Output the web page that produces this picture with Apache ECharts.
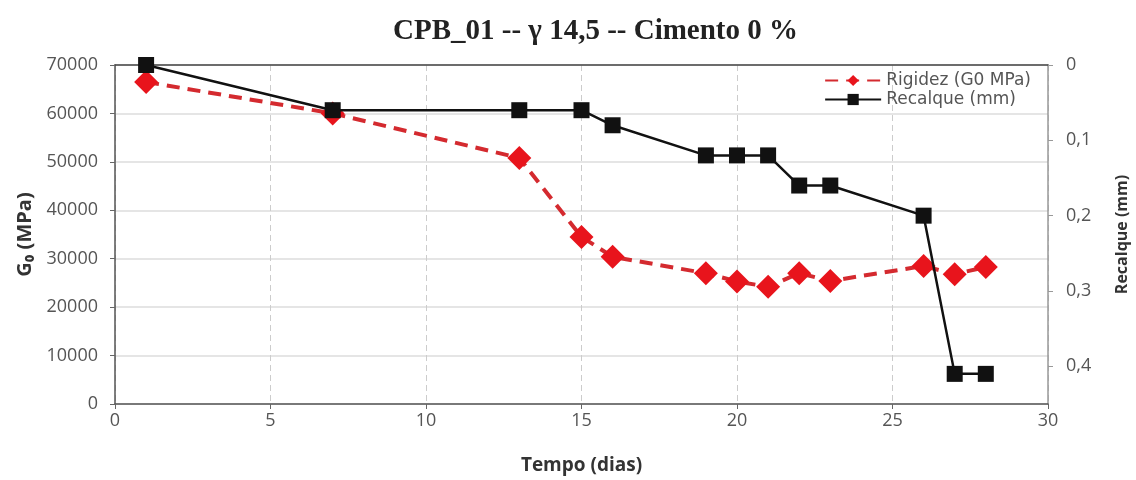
<!DOCTYPE html>
<html><head><meta charset="utf-8">
<script src="https://cdn.jsdelivr.net/npm/echarts@6/dist/echarts.min.js"></script>
<style>html,body{margin:0;padding:0;background:#fff}#c{width:1136px;height:480px}</style>
</head><body><div id="c"></div>
<script>
const dias = [1, 7, 13, 15, 16, 19, 20, 21, 22, 23, 26, 27, 28];
const rigidez = [66500, 60000, 50800, 34500, 30400, 27000, 25300, 24200, 27000, 25400, 28500, 26800, 28300];
const recalque = [0, 0.06, 0.06, 0.06, 0.08, 0.12, 0.12, 0.12, 0.16, 0.16, 0.20, 0.41, 0.41];
const titulo = 'CPB_01 -- γ 14,5 -- Cimento 0 %';

const chart = echarts.init(document.getElementById('c'));
const lab = {color:'#555', fontFamily:'Open Sans', fontSize:18};
chart.setOption({
  animation:false,
  title:{text:titulo,left:388,top:12,textStyle:{fontFamily:'Liberation Serif',fontWeight:'bold',fontSize:29,color:'#222'}},
  grid:{left:115,right:88,top:65,bottom:76,outerBoundsMode:'none',containLabel:false},
  legend:{right:100,top:67,orient:'vertical',itemGap:2,itemWidth:56,itemHeight:14,
    textStyle:{color:'#555',fontFamily:'DejaVu Sans',fontSize:17},
    data:['Rigidez (G0 MPa)','Recalque (mm)']},
  xAxis:[{type:'value',min:0,max:30,interval:5,
    name:'Tempo (dias)',nameLocation:'middle',nameGap:52,
    nameTextStyle:{fontFamily:'Open Sans',fontWeight:'bold',fontSize:19,color:'#333'},
    axisLine:{onZero:false,lineStyle:{color:'#555',width:1.5}},axisTick:{show:true,length:5,lineStyle:{color:'#666'}},
    axisLabel:Object.assign({margin:8},lab),
    splitLine:{show:true,lineStyle:{color:'#ccc',type:[6,4]}}},
   {type:'value',position:'top',min:0,max:30,axisLine:{show:true,onZero:false,lineStyle:{color:'#444',width:1.5}},
    axisTick:{show:false},axisLabel:{show:false},splitLine:{show:false}}],
  yAxis:[{type:'value',min:0,max:70000,interval:10000,
    name:'G₀ (MPa)',nameLocation:'middle',nameGap:80,nameRotate:90,
    nameTextStyle:{fontFamily:'Open Sans',fontWeight:'bold',fontSize:20,color:'#333'},
    axisLine:{show:true,onZero:false,lineStyle:{color:'#555',width:1.5}},axisTick:{show:true,length:5,lineStyle:{color:'#666'}},
    axisLabel:Object.assign({margin:17,formatter:v=>String(v)},lab),
    splitLine:{lineStyle:{color:'#dcdcdc',width:1.5}}},
   {type:'value',min:0,max:0.45,interval:0.1,inverse:true,position:'right',
    name:'Recalque (mm)',nameLocation:'middle',nameGap:66,nameRotate:90,
    nameTextStyle:{fontFamily:'Open Sans',fontWeight:'bold',fontSize:16,color:'#333'},
    axisLine:{show:true,onZero:false,lineStyle:{color:'#999',width:1.5}},axisTick:{show:true,length:5,lineStyle:{color:'#999'}},
    axisLabel:Object.assign({margin:18,showMaxLabel:false,formatter:v=>String(Math.round(v*10)/10).replace('.',',')},lab),
    splitLine:{show:false}}],
  series:[
   {name:'Rigidez (G0 MPa)',type:'line',xAxisIndex:0,yAxisIndex:0,
    data:dias.map((d,i)=>[d,rigidez[i]]),
    symbol:'diamond',symbolSize:24,itemStyle:{color:'#e8141c'},
    lineStyle:{color:'#d42a2f',width:4,type:[13,8]},z:2},
   {name:'Recalque (mm)',type:'line',xAxisIndex:0,yAxisIndex:1,
    data:dias.map((d,i)=>[d,recalque[i]]),
    symbol:'rect',symbolSize:16,itemStyle:{color:'#111'},
    lineStyle:{color:'#111',width:2.5},z:3}
  ]
});
</script></body></html>
